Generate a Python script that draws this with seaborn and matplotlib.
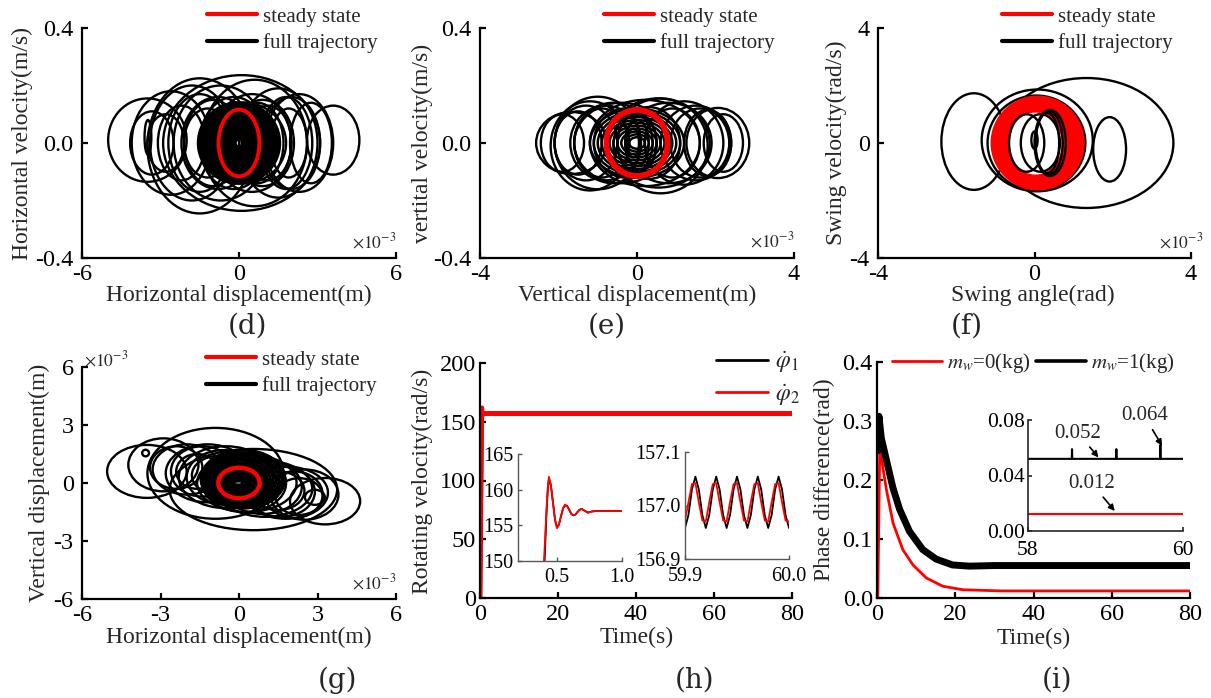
import matplotlib
matplotlib.use("Agg")
import matplotlib.pyplot as plt
from matplotlib.patches import Ellipse
from matplotlib.lines import Line2D
import seaborn as sns

sns.set_theme(style="ticks")
plt.rcParams["font.family"] = ["Liberation Serif", "DejaVu Serif"]
plt.rcParams["mathtext.fontset"] = "stix"

RED = "#ff0000"

# ---- phase portraits: loops (centre x, centre y, half width, half height)
# (d) horizontal displacement (x1e-3 m) vs horizontal velocity (m/s)
d_cx = [-3.5, -3.33, -3.48, -2.6, -2.2, -1.8, -1.5, -1.2, -0.8, -0.4, 0.0, 0.0, 0.1, 0.2, 0.4, 0.6, 0.9, 1.5, 1.9, 2.3, 2.75, 3.6,
        -1.0, -0.5, 0.3, 0.7, 1.1, -1.5, 1.8, -0.2, 0.5, -2.8, 2.0, -0.7]
d_cy = [0.01, 0.0, 0.02, 0.0, 0.0, 0.0, -0.01, 0.0, 0.0, 0.0, 0.0, 0.0, 0.0, 0.0, 0.0, 0.0, 0.0, 0.0, 0.0, 0.0, 0.0, 0.01,
        0.0, 0.0, 0.0, 0.0, 0.0, 0.0, 0.0, 0.0, 0.0, 0.0, 0.0, 0.0]
d_hw = [1.5, 0.83, 0.13, 1.5, 0.9, 1.6, 2.0, 0.9, 1.4, 1.0, 1.2, 0.6, 3.0, 1.6, 0.9, 2.0, 1.2, 1.5, 0.7, 1.3, 0.8, 1.0,
        1.1, 0.8, 0.7, 1.0, 0.9, 1.2, 1.0, 1.3, 1.5, 0.7, 1.1, 1.8]
d_hh = [0.145, 0.11, 0.06, 0.18, 0.13, 0.2, 0.235, 0.12, 0.16, 0.11, 0.13, 0.08, 0.236, 0.14, 0.10, 0.22, 0.15, 0.19, 0.12, 0.17, 0.14, 0.12,
        0.15, 0.12, 0.11, 0.14, 0.13, 0.17, 0.16, 0.16, 0.17, 0.10, 0.16, 0.2]
d_core_hw = [1.55, 1.45, 1.35, 1.25, 1.15, 1.05, 0.95, 0.85, 0.75, 0.65, 0.55, 0.45, 0.35, 0.25, 0.15]
d_core_hh = [0.14, 0.131, 0.122, 0.113, 0.104, 0.095, 0.086, 0.077, 0.068, 0.059, 0.05, 0.041, 0.032, 0.023, 0.014]
d_red = [0.0, 0.0, 0.78, 0.116]

# (e) vertical displacement (x1e-3 m) vs vertical velocity (m/s)
e_cx = [-1.67, 2.06, -1.0, 0.55, 0.6, -1.2, -1.3, 1.5, 1.2, -0.6, 0.9, -0.9, -0.3, 0.3, 0.0, 0.0, -1.9, 2.2, 1.8, -0.1,
        -0.8, 0.8, -1.5, 1.6, 0.2, -0.4]
e_cy = [0.0, 0.0, 0.0, 0.0, -0.01, -0.01, 0.0, 0.0, 0.0, 0.0, 0.0, 0.0, 0.0, 0.0, 0.0, 0.0, 0.0, 0.0, 0.0, 0.0,
        0.0, 0.0, 0.0, 0.0, 0.0, 0.0]
e_hw = [0.9, 0.8, 1.1, 1.3, 1.2, 1.0, 0.8, 0.9, 1.0, 1.0, 0.7, 0.7, 0.8, 0.8, 0.5, 0.3, 0.55, 0.5, 0.6, 0.15,
        0.9, 1.1, 0.6, 0.75, 1.4, 1.2]
e_hh = [0.108, 0.122, 0.161, 0.155, 0.165, 0.155, 0.13, 0.13, 0.145, 0.14, 0.12, 0.12, 0.12, 0.125, 0.1, 0.08, 0.1, 0.1, 0.115, 0.05,
        0.13, 0.14, 0.11, 0.12, 0.15, 0.14]
e_core_hw = [1.2, 1.1, 1.0, 0.9, 0.8, 0.7, 0.6, 0.5, 0.4, 0.3, 0.2]
e_core_hh = [0.12, 0.11, 0.1, 0.09, 0.08, 0.07, 0.06, 0.05, 0.04, 0.03, 0.02]
e_red = [0.0, 0.0, 0.78, 0.115]

# (f) swing angle (x1e-3 rad) vs swing velocity
f_cx = [-1.55, 1.33, 1.92, 0.07, 0.05]
f_cy = [0.05, 0.0, -0.22, 0.09, 0.0]
f_hw = [0.83, 2.22, 0.42, 1.42, 1.25]
f_hh = [1.68, 2.26, 1.12, 1.77, 1.65]
f_red_cx = [0.08, 0.06, 0.05, 0.04, 0.03, 0.03, 0.02, 0.02]
f_red_cy = [0.0, -0.02, 0.0, -0.02, 0.0, -0.02, 0.0, -0.02]
f_red_hw = [1.15, 1.09, 1.03, 0.97, 0.91, 0.85, 0.79, 0.73]
f_red_hh = [1.58, 1.52, 1.46, 1.40, 1.34, 1.28, 1.22, 1.15]
f_in_cx = [0.37, 0.33, 0.40, -0.2, 0.15, 0.0]
f_in_cy = [0.0, 0.0, 0.0, 0.0, 0.0, 0.1]
f_in_hw = [0.35, 0.30, 0.40, 0.45, 0.5, 0.08]
f_in_hh = [1.1, 1.05, 1.15, 1.0, 1.0, 0.3]

# (g) horizontal vs vertical displacement (x1e-3 m)
g_cx = [-3.52, -2.89, -2.0, -1.6, -1.2, -0.9, -0.8, -0.5, -0.2, 0.0, 0.3, 0.5, 0.55, 1.0, 1.5, 1.8, 2.3, 2.5, 3.29, 2.9, -3.57,
        -1.4, -0.6, 0.2, 0.9, 1.6, 2.1, -2.4]
g_cy = [0.6, 0.94, 0.7, 0.6, 0.5, 0.5, 0.4, 0.3, 0.2, 0.0, 0.0, -0.2, -0.34, -0.3, -0.4, -0.5, -0.7, -0.6, -0.94, -0.74, 1.55,
        0.6, 0.3, 0.0, -0.2, -0.45, -0.6, 0.8]
g_hw = [1.52, 1.34, 1.3, 0.8, 1.6, 2.6, 1.0, 1.8, 1.2, 0.6, 1.9, 1.1, 3.2, 1.8, 1.0, 1.6, 0.9, 1.3, 1.34, 0.38, 0.13,
        1.2, 1.4, 1.6, 1.5, 1.3, 1.1, 1.0]
g_hh = [1.37, 1.37, 1.3, 0.9, 1.5, 2.35, 1.0, 1.6, 1.1, 0.6, 1.5, 1.0, 2.1, 1.45, 1.0, 1.35, 0.95, 1.3, 1.2, 0.39, 0.17,
        1.3, 1.4, 1.5, 1.4, 1.3, 1.2, 1.1]
g_core_cx = [0.15, 0.14, 0.13, 0.12, 0.11, 0.1, 0.09, 0.08, 0.07, 0.06, 0.05, 0.04, 0.03, 0.02]
g_core_cy = [0.2, 0.19, 0.18, 0.17, 0.16, 0.15, 0.14, 0.12, 0.1, 0.08, 0.06, 0.04, 0.02, 0.0]
g_core_hw = [1.6, 1.5, 1.4, 1.3, 1.2, 1.1, 1.0, 0.9, 0.8, 0.7, 0.6, 0.5, 0.4, 0.3]
g_core_hh = [1.5, 1.38, 1.26, 1.14, 1.02, 0.9, 0.8, 0.7, 0.6, 0.5, 0.4, 0.3, 0.2, 0.1]
g_red = [0.0, 0.0, 0.79, 0.79]

# ---- (h) rotating velocity (rad/s)
h_t = [0, 0.40, 0.42, 0.43, 0.438, 0.453, 0.469, 0.485, 0.50, 0.515, 0.531, 0.547, 0.562, 0.578, 0.594, 0.61,
       0.626, 0.641, 0.657, 0.672, 0.688, 0.713, 0.738, 0.77, 0.80, 1.0, 80]
h_phi1 = [0, 148.0, 157.0, 160.2, 161.6, 160.6, 158.2, 155.8, 154.7, 155.1, 156.3, 157.4, 157.8, 157.7, 157.2, 156.6,
          156.4, 156.5, 156.85, 157.15, 157.3, 157.05, 156.8, 156.95, 157.0, 157.0, 157.0]
h_phi2 = [0, 150.0, 157.5, 160.5, 161.8, 160.7, 158.2, 155.7, 154.6, 155.1, 156.3, 157.4, 157.9, 157.7, 157.2, 156.6,
          156.4, 156.5, 156.85, 157.15, 157.3, 157.05, 156.75, 156.95, 157.0, 157.0, 157.0]
osc_t = [59.9000, 59.9033, 59.9067, 59.9100, 59.9133, 59.9167, 59.9200, 59.9233, 59.9267, 59.9300,
         59.9333, 59.9367, 59.9400, 59.9433, 59.9467, 59.9500, 59.9533, 59.9567, 59.9600, 59.9633,
         59.9667, 59.9700, 59.9733, 59.9767, 59.9800, 59.9833, 59.9867, 59.9900, 59.9933, 59.9967, 60.0000]
osc_phi1 = [156.958, 156.982, 157.030, 157.054, 157.030, 156.982, 156.958, 156.982, 157.030, 157.054,
            157.030, 156.982, 156.958, 156.982, 157.030, 157.054, 157.030, 156.982, 156.958, 156.982,
            157.030, 157.054, 157.030, 156.982, 156.958, 156.982, 157.030, 157.054, 157.030, 156.982, 156.958]
osc_phi2 = [156.972, 157.006, 157.040, 157.042, 157.006, 156.972, 156.970, 157.006, 157.040, 157.042,
            157.006, 156.972, 156.970, 157.006, 157.040, 157.042, 157.006, 156.972, 156.970, 157.006,
            157.040, 157.042, 157.006, 156.972, 156.970, 157.006, 157.040, 157.042, 157.006, 156.972, 156.970]

# ---- (i) phase difference (rad)
i_t0 = [0, 0.2, 0.7, 2.4, 4.1, 6.6, 9.2, 12.6, 16.8, 21.9, 32, 80]
i_m0 = [0, 0.0, 0.254, 0.184, 0.127, 0.082, 0.056, 0.034, 0.020, 0.014, 0.012, 0.012]
i_t1 = [0.3, 0.5, 1.1, 2.4, 4.1, 5.8, 8.3, 11.7, 15.1, 19.3, 23.6, 30, 80]
i_m1 = [0.25, 0.308, 0.271, 0.234, 0.186, 0.150, 0.113, 0.082, 0.066, 0.056, 0.054, 0.055, 0.055]
z_t0 = [58, 60]
z_m0 = [0.012, 0.012]
z_t1 = [58, 58.565, 58.568, 58.571, 59.137, 59.140, 59.143, 59.705, 59.708, 59.711, 60]
z_m1 = [0.052, 0.052, 0.059, 0.052, 0.052, 0.059, 0.052, 0.052, 0.062, 0.052, 0.052]

W, H = 1211, 698
fig = plt.figure(figsize=(W / 100, H / 100), dpi=100)
fig.patch.set_facecolor("white")


def px_axes(l, t, r, b):
    return fig.add_axes([l / W, 1 - b / H, (r - l) / W, (b - t) / H])


def style(ax, xt, xtl, yt, ytl, fs=17.5, lw=1.6, col="black", tl=4, xpad=4, ypad=3):
    ax.set_xticks(xt)
    ax.set_xticklabels(xtl)
    ax.set_yticks(yt)
    ax.set_yticklabels(ytl)
    ax.set_xlim(xt[0], xt[-1])
    ax.set_ylim(yt[0], yt[-1])
    sns.despine(ax=ax)
    for s in ["left", "bottom"]:
        ax.spines[s].set_linewidth(lw)
        ax.spines[s].set_color(col)
    ax.tick_params(direction="in", length=tl, width=lw, colors=col, labelcolor="black", labelsize=fs)
    ax.tick_params(axis="x", pad=xpad)
    ax.tick_params(axis="y", pad=ypad)
    ax.set_facecolor("none")


def loops(ax, cx, cy, hw, hh, color, lw):
    for x, y, w, h in zip(cx, cy, hw, hh):
        ax.add_patch(Ellipse((x, y), 2 * w, 2 * h, fill=False, ec=color, lw=lw))


def labels(ax, xl, yl, xc, yc):
    ax.set_xlabel(xl, fontsize=17)
    ax.set_ylabel(yl, fontsize=17)
    ax.xaxis.set_label_coords(*xc)
    ax.yaxis.set_label_coords(*yc)


def phase_legend(x0, yc):
    hs = [Line2D([], [], color=RED, lw=3), Line2D([], [], color="black", lw=3)]
    fig.legend(hs, ["steady state", "full trajectory"], loc="center left",
               bbox_to_anchor=(x0 / W, 1 - yc / H), bbox_transform=fig.transFigure,
               frameon=False, fontsize=15, handlelength=2.4, handletextpad=0.3,
               labelspacing=0.3, borderpad=0, borderaxespad=0)


def sci(ax, x, y, ha="right"):
    ax.text(x, y, r"$\times10^{-3}$", transform=ax.transAxes, ha=ha, va="center", fontsize=12.5)


# (d)
ax = px_axes(82, 28, 396, 258)
style(ax, [-6, 0, 6], ["-6", "0", "6"], [-0.4, 0.0, 0.4], ["-0.4", "0.0", "0.4"], ypad=6)
loops(ax, d_cx, d_cy, d_hw, d_hh, "black", 1.7)
loops(ax, [0.0] * len(d_core_hw), [0.0] * len(d_core_hw), d_core_hw, d_core_hh, "black", 2.4)
loops(ax, [d_red[0]], [d_red[1]], [d_red[2]], [d_red[3]], RED, 2.8)
labels(ax, "Horizontal displacement(m)", "Horizontal velocity(m/s)", (0.5, -0.118), (-0.155, 0.5))
sci(ax, 1.0, 0.07)
phase_legend(207, 30)

# (e)
ax = px_axes(480, 28, 794, 258)
style(ax, [-4, 0, 4], ["-4", "0", "4"], [-0.4, 0.0, 0.4], ["-0.4", "0.0", "0.4"], ypad=6)
loops(ax, e_cx, e_cy, e_hw, e_hh, "black", 1.7)
loops(ax, [0.0] * len(e_core_hw), [0.0] * len(e_core_hw), e_core_hw, e_core_hh, "black", 1.8)
loops(ax, [e_red[0]], [e_red[1]], [e_red[2]], [e_red[3]], RED, 4.2)
labels(ax, "Vertical displacement(m)", "vertital velocity(m/s)", (0.5, -0.118), (-0.15, 0.5))
sci(ax, 1.0, 0.075)
phase_legend(604, 30)

# (f)
ax = px_axes(878, 28, 1191, 258)
style(ax, [-4, 0, 4], ["-4", "0", "4"], [-4, 0, 4], ["-4", "0", "4"], ypad=6)
loops(ax, f_cx, f_cy, f_hw, f_hh, "black", 1.7)
loops(ax, f_red_cx, f_red_cy, f_red_hw, f_red_hh, RED, 3.0)
loops(ax, f_in_cx, f_in_cy, f_in_hw, f_in_hh, "black", 1.7)
labels(ax, "Swing angle(rad)", "Swing velocity(rad/s)", (0.495, -0.118), (-0.1, 0.5))
sci(ax, 1.04, 0.07)
phase_legend(1002, 30)

# (g)
ax = px_axes(82, 367, 396, 599)
style(ax, [-6, -3, 0, 3, 6], ["-6", "-3", "0", "3", "6"], [-6, -3, 0, 3, 6], ["-6", "-3", "0", "3", "6"],
      ypad=6)
loops(ax, g_cx, g_cy, g_hw, g_hh, "black", 1.7)
loops(ax, g_core_cx, g_core_cy, g_core_hw, g_core_hh, "black", 2.2)
loops(ax, [g_red[0]], [g_red[1]], [g_red[2]], [g_red[3]], RED, 3.2)
labels(ax, "Horizontal displacement(m)", "Vertical displacement(m)", (0.5, -0.12), (-0.102, 0.5))
sci(ax, 1.0, 0.068)
sci(ax, 0.005, 1.03, ha="left")
phase_legend(206, 373)

# (h)
ax = px_axes(480, 363, 792, 598)
style(ax, [0, 20, 40, 60, 80], ["0", "20", "40", "60", "80"],
      [0, 50, 100, 150, 200], ["0", "50", "100", "150", "200"])
sns.lineplot(x=h_t, y=h_phi1, ax=ax, color="black", lw=3, sort=False, estimator=None)
sns.lineplot(x=h_t, y=h_phi2, ax=ax, color=RED, lw=3.5, sort=False, estimator=None)
labels(ax, "Time(s)", "Rotating velocity(rad/s)", (0.502, -0.125), (-0.15, 0.495))
hs = [Line2D([], [], color="black", lw=2), Line2D([], [], color=RED, lw=2)]
ax.legend(hs, [r"$\dot{\varphi}_1$", r"$\dot{\varphi}_2$"], loc="center left",
          bbox_to_anchor=(716 / W, 1 - 379 / H), bbox_transform=fig.transFigure,
          frameon=False, fontsize=17, handlelength=2.2, handletextpad=0.3,
          labelspacing=0.3, borderpad=0, borderaxespad=0)

ax1 = px_axes(518, 454, 622, 561)
style(ax1, [0.2, 0.5, 1.0], ["", "0.5", "1.0"], [150, 155, 160, 165], ["150", "155", "160", "165"],
      fs=14.5, lw=1.0, col="0.35", tl=3, xpad=5, ypad=3)
ax1.set_xticks([0.5, 1.0])
sns.lineplot(x=h_t, y=h_phi1, ax=ax1, color="black", lw=1.3, sort=False, estimator=None)
sns.lineplot(x=h_t, y=h_phi2, ax=ax1, color=RED, lw=1.3, sort=False, estimator=None)
ax1.set_xlabel("")
ax1.set_ylabel("")

ax2 = px_axes(685, 452, 789, 559)
style(ax2, [59.9, 60.0], ["59.9", "60.0"], [156.9, 157.0, 157.1], ["156.9", "157.0", "157.1"],
      fs=14.5, lw=1.0, col="0.35", tl=3, xpad=6, ypad=3)
sns.lineplot(x=osc_t, y=osc_phi1, ax=ax2, color="black", lw=1.3, sort=False, estimator=None)
sns.lineplot(x=osc_t, y=osc_phi2, ax=ax2, color=RED, lw=1.3, sort=False, estimator=None)
ax2.set_xlabel("")
ax2.set_ylabel("")

# (i)
ax = px_axes(877, 362, 1190, 598)
style(ax, [0, 20, 40, 60, 80], ["0", "20", "40", "60", "80"],
      [0.0, 0.1, 0.2, 0.3, 0.4], ["0.0", "0.1", "0.2", "0.3", "0.4"])
sns.lineplot(x=i_t0, y=i_m0, ax=ax, color=RED, lw=2, sort=False, estimator=None)
sns.lineplot(x=i_t1, y=i_m1, ax=ax, color="black", lw=5, sort=False, estimator=None)
labels(ax, "Time(s)", "Phase difference(rad)", (0.501, -0.125), (-0.134, 0.5))
hs = [Line2D([], [], color=RED, lw=2), Line2D([], [], color="black", lw=2.6)]
ax.legend(hs, [r"$m_w$=0(kg)", r"$m_w$=1(kg)"], loc="center left", ncol=2,
          bbox_to_anchor=(892 / W, 1 - 363 / H), bbox_transform=fig.transFigure,
          frameon=False, fontsize=15, handlelength=2.4, handletextpad=0.25,
          columnspacing=0.25, borderpad=0, borderaxespad=0)

ax3 = px_axes(1028, 420, 1183, 531)
style(ax3, [58, 60], ["58", "60"], [0.0, 0.04, 0.08], ["0.00", "0.04", "0.08"],
      fs=15.5, lw=1.2, col="0.15", tl=3, xpad=7, ypad=2)
sns.lineplot(x=z_t0, y=z_m0, ax=ax3, color=RED, lw=1.5, sort=False, estimator=None)
sns.lineplot(x=z_t1, y=z_m1, ax=ax3, color="black", lw=1.5, sort=False, estimator=None)
ax3.set_xlabel("")
ax3.set_ylabel("")
arrow = dict(arrowstyle="-|>", color="black", lw=1.2, mutation_scale=9, shrinkA=1, shrinkB=0)
ax3.annotate("0.052", xy=(58.91, 0.053), xytext=(58.646, 0.0705), ha="center", va="center",
             fontsize=15, arrowprops=arrow, annotation_clip=False)
ax3.annotate("0.064", xy=(59.73, 0.0614), xytext=(59.5, 0.0831), ha="center", va="center",
             fontsize=15, arrowprops=arrow, annotation_clip=False)
ax3.annotate("0.012", xy=(59.12, 0.0144), xytext=(58.82, 0.0344), ha="center", va="center",
             fontsize=15, arrowprops=arrow, annotation_clip=False)

# panel letters
for lab, x, y in [("(d)", 247, 326), ("(e)", 607, 326), ("(f)", 967, 326),
                  ("(g)", 337, 680), ("(h)", 695, 680), ("(i)", 1057, 680)]:
    fig.text(x / W, 1 - y / H, lab, ha="center", va="center", fontsize=20, family="DejaVu Serif")

fig.savefig("out.png", dpi=100, facecolor="white")
